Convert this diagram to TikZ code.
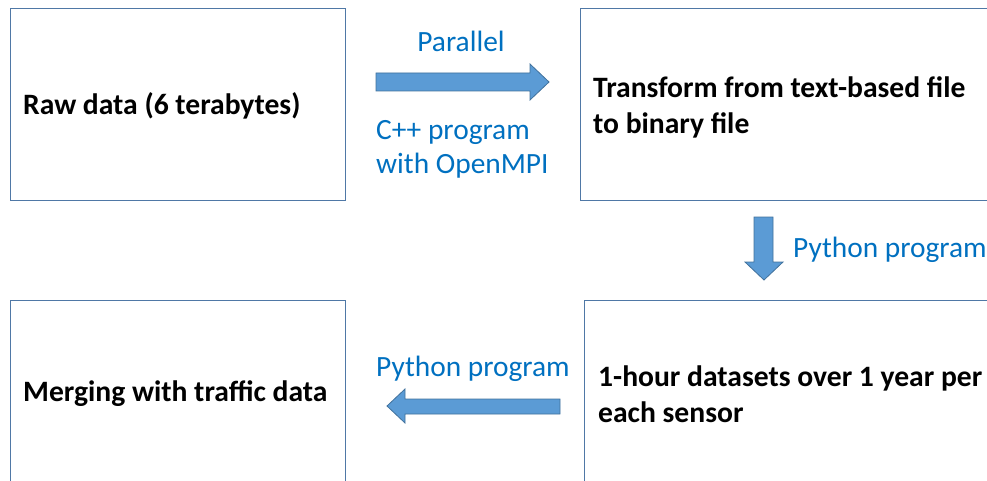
\documentclass[tikz,border=0pt]{standalone}
\usepackage{fontspec}
\setmainfont{Carlito}
\usetikzlibrary{calc}
\definecolor{boxedge}{RGB}{79,120,166}
\definecolor{arrowfill}{RGB}{91,155,213}
\definecolor{arrowedge}{RGB}{65,113,156}
\definecolor{labelblue}{RGB}{0,112,192}
\begin{document}
\begin{tikzpicture}[x=1pt,y=-1pt,
  stagebox/.style={draw=boxedge, line width=1.4pt, rectangle, anchor=north west,
    inner sep=0pt},
  stagetext/.style={anchor=west, inner sep=0pt, align=left,
    font=\bfseries\fontsize{29.6}{36}\selectfont},
  blockarrow/.style={fill=arrowfill, draw=arrowedge, line width=0.8pt, line join=miter},
  steplabel/.style={text=labelblue, anchor=base west, inner sep=0pt,
    font=\fontsize{29.4}{35}\selectfont}]
\useasboundingbox (0,0) rectangle (987,481);
\clip (0,0) rectangle (987,481);

% processing stages (the right and bottom ones run past the page edge)
\node[stagebox, minimum width=335pt, minimum height=192pt] (raw) at (10,8) {};
\node[stagebox, minimum width=420pt, minimum height=192pt] (bin) at (580,8) {};
\node[stagebox, minimum width=416pt, minimum height=188pt] (hour) at (584,300) {};
\node[stagebox, minimum width=335pt, minimum height=188pt] (merge) at (10,300) {};

\node[stagetext] (rawtext) at ($(raw.west)+(13,1)$) {Raw data (6 terabytes)};
\node[stagetext] (bintext) at ($(bin.west)+(13,2.5)$)
  {Transform from text-based file\\to binary file};
\node[stagetext] (hourtext) at ($(hour.west)+(14,0)$)
  {1-hour datasets over 1 year per\\each sensor};
\node[stagetext] (mergetext) at ($(merge.west)+(13,-1)$) {Merging with traffic data};

% raw -> bin
\draw[blockarrow] (376,73) -- (530,73) -- (530,64) -- (549,82) -- (530,100)
  -- (530,91) -- (376,91) -- cycle;
% bin -> hour
\draw[blockarrow] (754,217) -- (773,217) -- (773,262) -- (783,262) -- (764,280)
  -- (745,262) -- (754,262) -- cycle;
% hour -> merge
\draw[blockarrow] (560,399) -- (405,399) -- (405,389) -- (387,406) -- (405,423)
  -- (405,414) -- (560,414) -- cycle;

% arrow labels
\node[steplabel, anchor=base] (par) at (461,52) {Parallel};
\node[steplabel] (cpp) at (376,140) {C++ program};
\node[steplabel] (mpi) at (376,174) {with OpenMPI};
\node[steplabel] (py1) at (793,257) {Python program};
\node[steplabel] (py2) at (376,376) {Python program};
\end{tikzpicture}
\end{document}
